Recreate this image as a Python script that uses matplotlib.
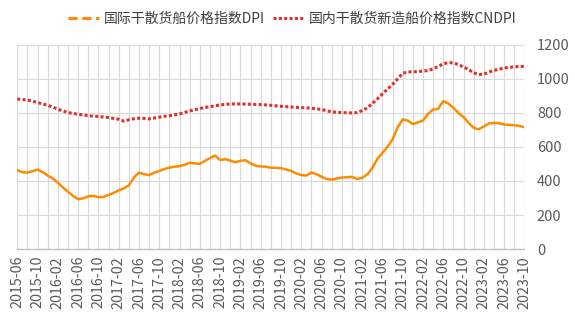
import matplotlib
matplotlib.use("Agg")
import matplotlib.pyplot as plt
from matplotlib.lines import Line2D
import numpy as np
import pandas as pd

plt.rcParams['font.family'] = ['Noto Sans CJK SC', 'DejaVu Sans']

months = pd.period_range('2015-06', '2023-10', freq='M').strftime('%Y-%m').tolist()

dpi_values = [
    465, 452, 449, 458, 466, 452, 432, 415, 390, 362,
    337, 312, 293, 298, 310, 312, 305, 306, 318, 330,
    345, 356, 375, 420, 449, 440, 435, 448, 459, 470,
    479, 484, 488, 495, 507, 504, 500, 518, 535, 549,
    524, 528, 520, 510, 518, 522, 504, 490, 486, 484,
    478, 478, 475, 468, 459, 445, 435, 432, 450, 440,
    425, 412, 408, 415, 420, 422, 424, 412, 418, 438,
    475, 530, 565, 600, 645, 715, 762, 755, 735, 745,
    755, 794, 820, 824, 870, 855, 830, 800, 775, 742,
    712, 704, 720, 738, 742, 740, 732, 730, 728, 724,
    716,
]

cndpi_values = [
    882, 879, 876, 869, 861, 853, 845, 834, 822, 812,
    802, 797, 792, 788, 784, 781, 779, 776, 773, 768,
    763, 752, 760, 766, 769, 768, 765, 770, 775, 780,
    784, 789, 794, 803, 812, 819, 826, 832, 837, 842,
    847, 850, 853, 853, 853, 852, 851, 850, 849, 847,
    845, 842, 839, 837, 835, 833, 831, 830, 828, 824,
    820, 813, 806, 804, 802, 801, 800, 802, 814, 829,
    855, 882, 912, 940, 968, 1000, 1033, 1041, 1042, 1043,
    1046, 1049, 1060, 1073, 1088, 1096, 1094, 1084, 1070, 1055,
    1036, 1026, 1028, 1040, 1050, 1057, 1064, 1068, 1071, 1073,
    1074,
]

series_names = ['国际干散货船价格指数DPI', '国内干散货新造船价格指数CNDPI']
y_ticks = [0, 200, 400, 600, 800, 1000, 1200]

orange = '#FF8C00'
red = '#E0302A'
grid_c = '#D9D9D9'
text_c = '#595959'

fig = plt.figure(figsize=(5.75, 3.23), dpi=100)
ax = fig.add_axes([0.030, 0.229, 0.882, 0.632])

x = np.arange(len(months))
ax.plot(x, dpi_values, color=orange, lw=1.8, solid_capstyle='round', zorder=3)
ax.plot(x, cndpi_values, color=red, lw=2.2, linestyle=(0, (1, 0.75)),
        dash_capstyle='butt', zorder=3)

ax.set_xlim(0, len(months) - 1)
ax.set_ylim(0, 1200)
ax.set_yticks(y_ticks)
ax.yaxis.tick_right()
ax.tick_params(axis='y', length=0, pad=9, labelsize=10.5, labelcolor=text_c)

ax.set_xticks(x[::4])
ax.set_xticklabels(months[::4], rotation=90, fontsize=10.3, color=text_c)
ax.set_xticks(x[::2], minor=True)
ax.tick_params(axis='x', which='both', length=0, pad=5)

ax.grid(True, which='both', color=grid_c, lw=0.8)
ax.set_axisbelow(True)
for s in ['top', 'left', 'right']:
    ax.spines[s].set_visible(False)
ax.spines['bottom'].set_color('#BFBFBF')
ax.spines['bottom'].set_linewidth(1.0)

handles = [
    Line2D([0], [0], color=orange, lw=2.2, linestyle=(0, (3, 1.5))),
    Line2D([0], [0], color=red, lw=2.2, linestyle=(0, (1, 0.75)), dash_capstyle='butt'),
]
fig.legend(handles, series_names, loc='center', bbox_to_anchor=(0.508, 0.942),
           ncol=2, frameon=False, fontsize=10, handlelength=2.3, handletextpad=0.3,
           columnspacing=0.6, labelcolor='#404040')

fig.savefig('out.png', dpi=100)
